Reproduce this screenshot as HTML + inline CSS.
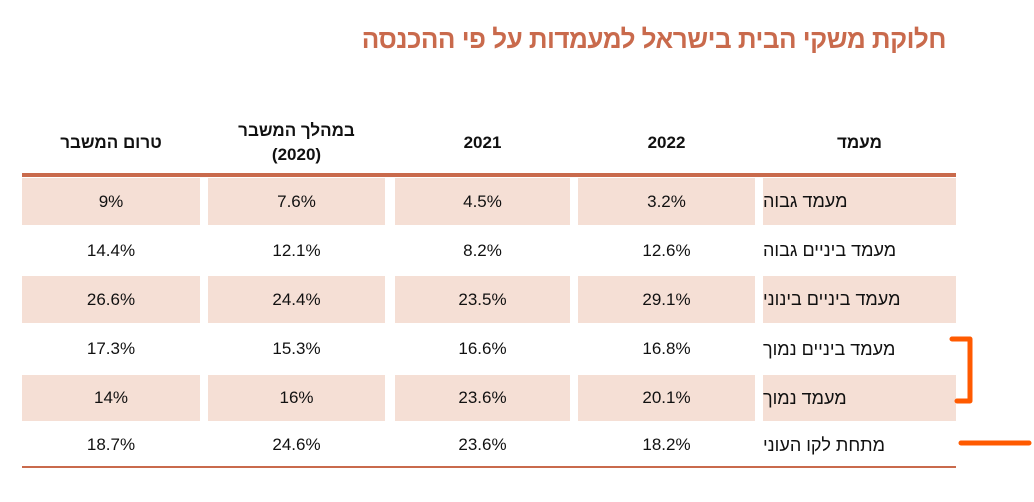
<!DOCTYPE html>
<html><head><meta charset="utf-8"><style>
body{margin:0;width:1034px;height:502px;background:#fff;position:relative;overflow:hidden;font-family:"Liberation Sans","Noto Sans CJK SC",sans-serif;}
.t{position:absolute;right:88px;top:24px;color:#c96a4c;font-weight:bold;font-size:26px;direction:rtl;letter-spacing:-0.5px;}
.c{position:absolute;display:flex;align-items:center;justify-content:center;font-size:17px;color:#111;}
.h{font-weight:bold;font-size:17px;text-align:center;line-height:24px;}
.s{background:#f5dfd5;}
.r{justify-content:flex-end;padding-right:10px;box-sizing:border-box;direction:rtl;font-size:18px;}
.line{position:absolute;left:22px;width:934px;background:#c96a4c;}
</style></head><body>
<div class="t">חלוקת משקי הבית בישראל למעמדות על פי ההכנסה</div>
<div class="c h" style="left:22px;width:178px;top:128px;height:30px">טרום המשבר</div>
<div class="c h" style="left:208px;width:177px;top:115px;height:56px;flex-direction:column">במהלך המשבר<br>(2020)</div>
<div class="c h" style="left:395px;width:175px;top:128px;height:30px">2021</div>
<div class="c h" style="left:578px;width:177px;top:128px;height:30px">2022</div>
<div class="c h" style="left:763px;width:193px;top:128px;height:30px">מעמד</div>
<div class="line" style="top:173px;height:4px"></div>
<div class="line" style="top:466px;height:2px"></div>
<div id="g"></div>
<svg style="position:absolute;left:0;top:0" width="1034" height="502">
<path d="M952 339 H970 V401 H957" fill="none" stroke="#ff5a00" stroke-width="5" stroke-linecap="round" stroke-linejoin="round"/>
<path d="M961 443 H1029" stroke="#ff5a00" stroke-width="5" stroke-linecap="round"/>
</svg>
<script>
var rows=[["9%","7.6%","4.5%","3.2%","מעמד גבוה"],["14.4%","12.1%","8.2%","12.6%","מעמד ביניים גבוה"],["26.6%","24.4%","23.5%","29.1%","מעמד ביניים בינוני"],["17.3%","15.3%","16.6%","16.8%","מעמד ביניים נמוך"],["14%","16%","23.6%","20.1%","מעמד נמוך"],["18.7%","24.6%","23.6%","18.2%","מתחת לקו העוני"]];
var cols=[[22,178],[208,177],[395,175],[578,177],[763,193]];
var tops=[178,227,276,326,375,424],h=[47,47,47,46,46,42];
var out="";
rows.forEach(function(r,i){r.forEach(function(v,j){out+='<div class="c'+(i%2==0?' s':'')+(j==4?' r':'')+'" style="left:'+cols[j][0]+'px;width:'+cols[j][1]+'px;top:'+tops[i]+'px;height:'+h[i]+'px">'+v+'</div>';});});
document.getElementById("g").innerHTML=out;
</script>
</body></html>
